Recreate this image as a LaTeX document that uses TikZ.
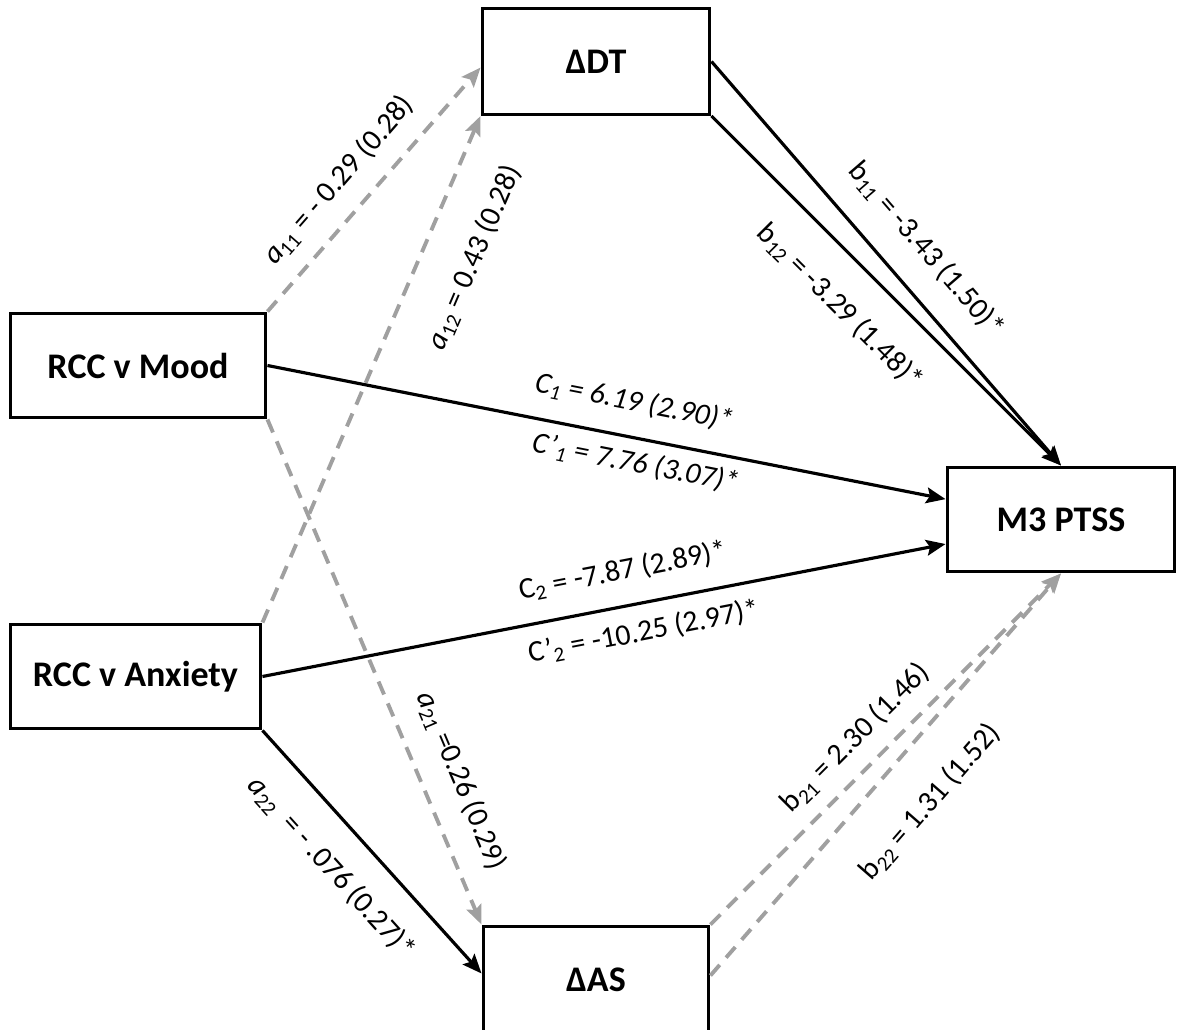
\documentclass[tikz,border=0pt]{standalone}
\usepackage{fontspec}
\setmainfont{Carlito}
\usetikzlibrary{arrows.meta}
\definecolor{pathgray}{RGB}{160,160,160}

\begin{document}
\begin{tikzpicture}[
  x=0.02cm, y=-0.02cm,
  box/.style={draw=black, line width=1.7pt, minimum width=4.56cm, minimum height=2.12cm,
    inner sep=0pt, font=\fontsize{20.5}{24}\selectfont\bfseries},
  sig/.style={draw=black, line width=1.8pt, -{Stealth[length=11pt,width=9pt,inset=2pt]}},
  nonsig/.style={draw=pathgray, line width=2.2pt, dash pattern=on 8pt off 5.5pt,
    -{Stealth[length=11pt,width=9pt,inset=2pt]}},
  coef/.style={font=\fontsize{17}{20}\selectfont, sloped, inner sep=0pt},
]
\useasboundingbox (0,0) rectangle (1177,1030);

% variables
\node[box] (dDT) at (596,61.5) {ΔDT};
\node[box, minimum width=5.12cm, minimum height=2.1cm] (mood) at (138,365.5) {RCC v Mood};
\node[box, minimum width=5.02cm, minimum height=2.1cm] (anxiety) at (135.5,676.5) {RCC v Anxiety};
\node[box, minimum height=2.1cm] (ptss) at (1061,519.5) {M3 PTSS};
\node[box, minimum width=4.52cm, minimum height=2.14cm] (dAS) at (596,979.5) {ΔAS};

% non-significant paths
\draw[nonsig] (mood.north east) -- (dDT.183)
  node[coef, pos=0.45, yshift=0.66cm] {\textit{a}\textsubscript{11} = - 0.29 (0.28)};
\draw[nonsig] (anxiety.north east) -- (dDT.south west)
  node[coef, pos=0.76, yshift=-1.0cm] {\textit{a}\textsubscript{12} = 0.43 (0.28)};
\draw[nonsig] (mood.south east) -- (dAS.north west)
  node[coef, pos=0.744, yshift=0.75cm] {\textit{a}\textsubscript{21} =0.26 (0.29)};
\draw[nonsig] (dAS.north east) -- (ptss.south)
  node[coef, pos=0.473, yshift=0.59cm] {b\textsubscript{21} = 2.30 (1.46)};
\draw[nonsig] (dAS.2) -- (ptss.south)
  node[coef, pos=0.516, yshift=-1.03cm] {b\textsubscript{22} = 1.31 (1.52)};

% significant paths
\draw[sig] (anxiety.south east) -- (dAS.177)
  node[coef, pos=0.453, yshift=-0.82cm] {\textit{a}\textsubscript{22}\ \ = - .076 (0.27)*};
\draw[sig] (dDT.east) -- (ptss.north)
  node[coef, pos=0.529, yshift=0.79cm] {b\textsubscript{11} = -3.43 (1.50)*};
\draw[sig] (dDT.south east) -- (ptss.north)
  node[coef, pos=0.457, yshift=-0.88cm] {b\textsubscript{12} = -3.29 (1.48)*};
\draw[sig] (mood.east) -- (ptss.170)
  node[coef, pos=0.531, yshift=0.70cm] {\textit{C\textsubscript{1} = 6.19 (2.90)*}}
  node[coef, pos=0.55, yshift=-0.50cm] {\textit{C'\textsubscript{1} = 7.76 (3.07)*}};
\draw[sig] (anxiety.east) -- (ptss.192)
  node[coef, pos=0.537, yshift=0.70cm] {C\textsubscript{2} = -7.87 (2.89)*}
  node[coef, pos=0.55, yshift=-0.58cm] {C'\textsubscript{2} = -10.25 (2.97)*};
\end{tikzpicture}
\end{document}
